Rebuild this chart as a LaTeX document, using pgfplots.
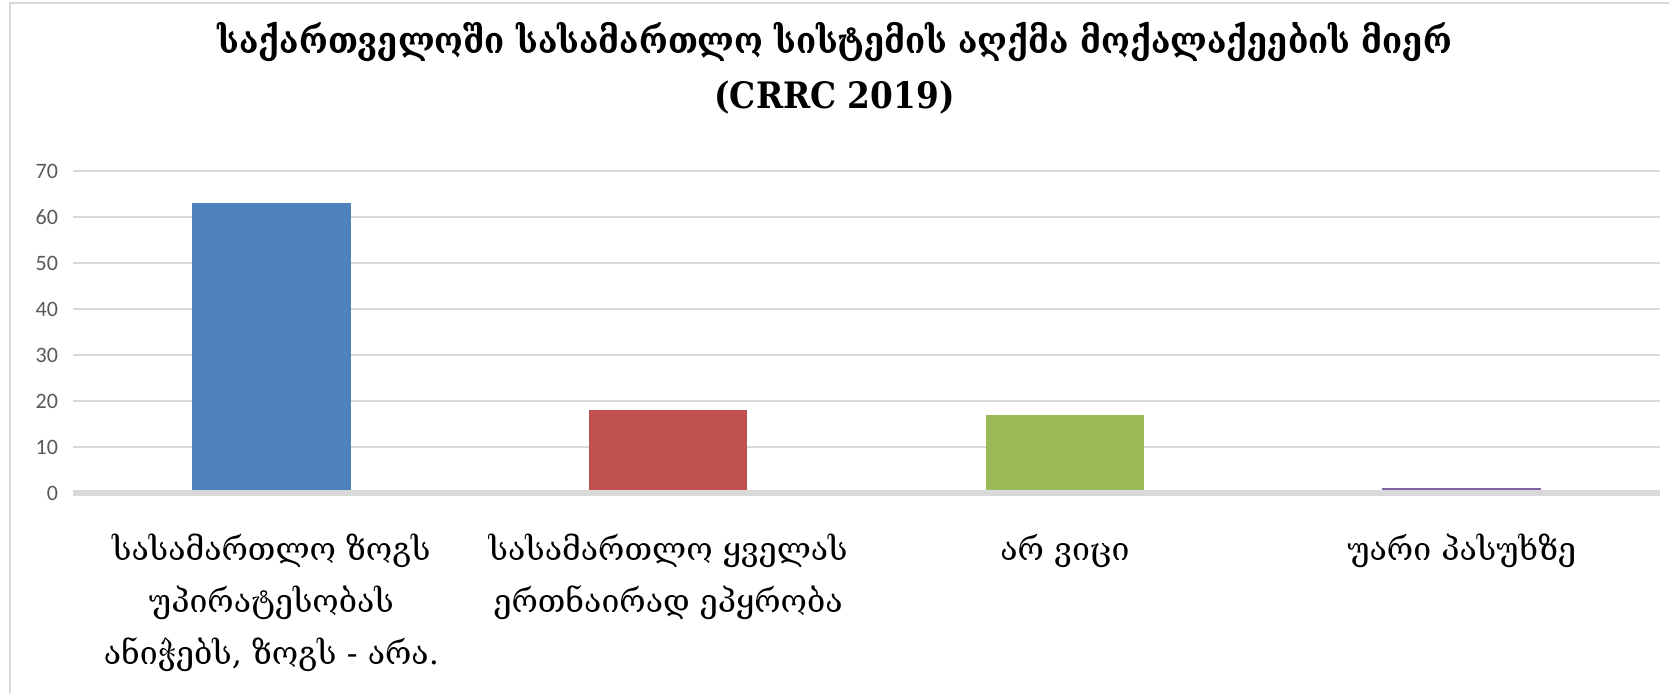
\documentclass[border=0pt]{standalone}
\usepackage{fontspec}
\usepackage{pgfplots}
\pgfplotsset{compat=1.18}
\setmainfont{Carlito}
\newfontfamily\geo{DejaVu Serif}
\newfontfamily\geotitle{DejaVu Serif Condensed}
\definecolor{cblue}{HTML}{4F81BD}
\definecolor{cred}{HTML}{C0504D}
\definecolor{cgreen}{HTML}{9BBB59}
\definecolor{cpurple}{HTML}{8064A2}
\definecolor{gridc}{HTML}{D9D9D9}
\definecolor{tickc}{HTML}{595959}
\begin{document}
\begin{tikzpicture}
\useasboundingbox (0,0) rectangle (834.5pt,346pt);
\draw[gridc, line width=1pt] (5pt,-20pt) -- (5pt,344.5pt) -- (900pt,344.5pt);
\node[font=\geotitle\bfseries\fontsize{18.2}{27.5}\selectfont, align=center] at (417.25pt,312pt) {საქართველოში სასამართლო სისტემის აღქმა მოქალაქეების მიერ\\(CRRC 2019)};
\begin{axis}[
  at={(36.5pt,99.5pt)}, anchor=south west,
  scale only axis, width=793.5pt, height=161pt,
  xmin=-0.5, xmax=3.5, ymin=0, ymax=70,
  ytick={0,10,...,70},
  xtick={0,1,2,3},
  xticklabels={{სასამართლო ზოგს\\უპირატესობას\\ანიჭებს, ზოგს - არა.},{სასამართლო ყველას\\ერთნაირად ეპყრობა},{არ ვიცი},{უარი პასუხზე}},
  xticklabel style={font=\geo\fontsize{16}{26}\selectfont, align=center, yshift=-17pt},
  yticklabel style={font=\fontsize{11}{13}\selectfont, text=tickc, xshift=-4pt},
  /pgf/number format/assume math mode=true,
  major tick length=0pt,
  axis line style={draw=none},
  ymajorgrids, grid style={gridc, line width=0.8pt},
  ybar, bar width=0.4, bar shift=0pt,
  axis on top=false, clip=false,
]
\addplot[fill=cblue, draw=none] coordinates {(0,63)};
\addplot[fill=cred, draw=none] coordinates {(1,18)};
\addplot[fill=cgreen, draw=none] coordinates {(2,17)};
\addplot[fill=cpurple, draw=none] coordinates {(3,1)};
\draw[gridc, line width=3pt] (axis cs:-0.5,0) -- (axis cs:3.5,0);
\end{axis}
\end{tikzpicture}
\end{document}
